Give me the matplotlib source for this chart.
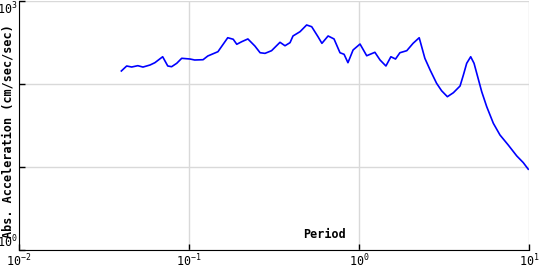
import matplotlib
matplotlib.use("Agg")
import matplotlib.pyplot as plt
from matplotlib.ticker import FixedLocator, FixedFormatter, NullLocator

# Response spectrum (period in sec, accel in cm/sec/sec)
period = [0.040, 0.043, 0.046, 0.050, 0.0536, 0.059, 0.063, 0.070, 0.075, 0.079,
          0.0847, 0.0906, 0.1014, 0.108, 0.121, 0.129, 0.148, 0.169, 0.182, 0.191,
          0.204, 0.222, 0.244, 0.262, 0.280, 0.306, 0.343, 0.367, 0.393, 0.409,
          0.450, 0.492, 0.527, 0.574, 0.605, 0.658, 0.713, 0.773, 0.817, 0.861,
          0.923, 1.014, 1.11, 1.24, 1.33, 1.44, 1.54, 1.64, 1.74, 1.91,
          2.08, 2.26, 2.44, 2.62, 2.86, 3.06, 3.31, 3.59, 3.93, 4.11,
          4.30, 4.54, 4.75, 4.96, 5.27, 5.64, 6.17, 6.75, 7.55, 8.47,
          9.25, 9.9]
accel = [143.5, 164.8, 160.2, 166.2, 160.0, 169.4, 180.6, 213.0, 164.8, 161.6,
         177.6, 204.0, 200.0, 194.6, 196.2, 217.5, 245.0, 361.0, 346.0, 301.0,
         323.0, 349.0, 287.0, 238.0, 234.0, 252.0, 318.0, 289.0, 315.0, 379.0,
         427.0, 514.0, 490.0, 371.0, 309.0, 379.0, 349.0, 238.0, 228.0, 180.6,
         257.0, 303.0, 219.0, 241.0, 194.6, 164.8, 213.0, 200.0, 238.0, 252.0,
         309.0, 361.0, 204.0, 147.5, 102.0, 83.0, 70.3, 78.5, 94.6, 128.0,
         177.6, 213.0, 177.6, 128.0, 80.8, 53.3, 33.6, 24.3, 18.4, 13.6,
         11.3, 9.4]

x_ticks = [1e-2, 1e-1, 1e0, 1e1]
x_labels = [r"$\mathregular{10^{-2}}$", r"$\mathregular{10^{-1}}$",
            r"$\mathregular{10^{0}}$", r"$\mathregular{10^{1}}$"]
y_ticks = [1e0, 1e1, 1e2, 1e3]
y_labels = [r"$\mathregular{10^{0}}$", "", "", r"$\mathregular{10^{3}}$"]

plt.rcParams["font.family"] = "DejaVu Sans Mono"
plt.rcParams["mathtext.default"] = "regular"

fig = plt.figure(figsize=(5.4, 2.7), dpi=100)
ax = fig.add_axes([19 / 540, 1 - 250 / 270, 510 / 540, 249 / 270])

ax.plot(period, accel, color="#0000ff", lw=1.2)

ax.set_xscale("log")
ax.set_yscale("log")
ax.set_xlim(1e-2, 1e1)
ax.set_ylim(1e0, 1e3)

ax.xaxis.set_major_locator(FixedLocator(x_ticks))
ax.xaxis.set_major_formatter(FixedFormatter(x_labels))
ax.yaxis.set_major_locator(FixedLocator(y_ticks))
ax.yaxis.set_major_formatter(FixedFormatter(y_labels))
ax.xaxis.set_minor_locator(NullLocator())
ax.yaxis.set_minor_locator(NullLocator())

ax.grid(True, color="#d9d9d9", lw=1)
ax.set_axisbelow(True)
for s in ["top", "right"]:
    ax.spines[s].set_visible(False)
ax.spines["left"].set_color("black")
ax.spines["bottom"].set_color("black")

ax.tick_params(direction="in", length=4, width=1, labelsize=8.5, pad=2)
ax.tick_params(axis="y", pad=1)

# keep the end labels inside the canvas
ylabs = ax.get_yticklabels()
ylabs[0].set_va("bottom")
ylabs[-1].set_va("top")

fig.text(8 / 540, 1 - 131 / 270, "Abs. Acceleration (cm/sec/sec)", rotation=90,
         ha="center", va="center", fontsize=8.5, fontweight="bold")
ax.text(325 / 540 * 540 / 510 - 19 / 510, 0.035, "Period", transform=ax.transAxes,
        ha="center", va="bottom", fontsize=8.5, fontweight="bold")

fig.savefig("out.png", dpi=100)
